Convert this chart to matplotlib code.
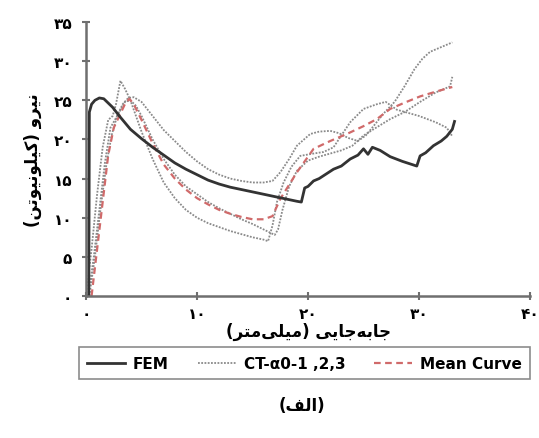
import matplotlib
matplotlib.use("Agg")
import matplotlib.pyplot as plt
from matplotlib.ticker import FuncFormatter, FixedLocator
from matplotlib.lines import Line2D

plt.rcParams['font.family'] = ['DejaVu Sans']

# ---- data (displacement mm, force kN) ----
fem_x = [0, 0.25, 0.3, 0.5, 0.8, 1.2, 1.6, 2.4, 3, 4, 5, 6, 7, 8, 9, 10, 11, 12, 13, 14, 15, 16, 17, 18, 19, 19.4,
         19.7, 20, 20.5, 21, 22.3, 23, 23.8, 24.5, 25, 25.4, 25.8, 26.5, 27.4, 28.5, 29.8, 30.1, 30.6, 31.3, 32, 32.5, 33, 33.2]
fem_y = [0, 0, 23.5, 24.5, 25, 25.3, 25.2, 24.1, 23, 21.3, 20.1, 19, 18, 17, 16.2, 15.5, 14.8, 14.3, 13.9, 13.6, 13.3, 13, 12.7, 12.4, 12.1, 12,
         13.8, 14, 14.7, 15, 16.2, 16.6, 17.5, 18, 18.8, 18.1, 19, 18.6, 17.8, 17.2, 16.6, 17.9, 18.3, 19.2, 19.8, 20.4, 21.3, 22.3]

ct_a_x = [0.3, 0.8, 1.3, 1.8, 2.3, 2.8, 3.3, 3.8, 4.3, 5, 6, 7, 8, 9, 10, 11, 12, 13, 14, 15, 16, 16.8, 17.5, 18.3, 19, 20.2,
          21, 22, 22.8, 23.6, 24.5, 25.2, 25.9, 26.8, 27.8, 28.7, 29.6, 30.3, 31, 32, 33]
ct_a_y = [0, 5, 11, 16.5, 20.5, 23, 24.5, 25.3, 25.4, 24.8, 23, 21.2, 19.8, 18.4, 17.2, 16.2, 15.5, 15, 14.7, 14.5, 14.5, 14.7, 15.8, 17.5, 19.2, 20.7,
          21, 21.1, 20.8, 20.2, 19.8, 20.5, 21.7, 23.3, 24.8, 26.8, 29, 30.3, 31.2, 31.8, 32.4]

ct_b_x = [0, 0.5, 1, 1.5, 2, 2.4, 2.7, 3.1, 3.5, 4, 4.5, 5, 6, 7, 8, 9, 10, 11, 12, 13, 14, 15, 16, 16.4, 16.8, 17.2, 17.8,
          18.5, 19.3, 20.5, 21.4, 22.3, 23, 23.8, 25, 26.2, 27, 28, 29, 30, 31.5, 32.5, 33]
ct_b_y = [0, 6, 13, 19, 22.5, 23, 24.5, 27.5, 26.5, 25, 23, 21, 17.5, 14.5, 12.5, 11, 10, 9.3, 8.8, 8.3, 7.9, 7.5, 7.2, 7.0, 9, 12, 14.5,
          16.5, 17.9, 18.2, 18.4, 19, 20.5, 22.2, 23.9, 24.5, 24.8, 23.8, 23.4, 23, 22.2, 21.5, 20.4]

ct_c_x = [0.2, 0.7, 1.2, 1.7, 2.2, 2.6, 3, 3.5, 4, 4.5, 5, 6, 7, 8, 9, 10, 11, 12, 13, 14, 15, 16, 17, 17.3, 17.7, 18.3,
          19, 20, 21, 22, 23, 24, 25, 25.9, 27.4, 28.7, 30.1, 31.5, 32.5, 32.8, 33]
ct_c_y = [0, 5, 11, 17, 21.5, 22.5, 23.5, 24.8, 25, 24.3, 23, 20, 17.5, 15.5, 14, 13, 12, 11.2, 10.5, 9.8, 9.2, 8.5, 7.8, 8.5, 11, 14,
          16, 17.3, 17.8, 18.2, 18.6, 19.2, 20.5, 21.3, 22.6, 23.5, 24.8, 26, 26.6, 26.8, 28]

mean_x = [0.5, 1, 1.5, 2, 2.5, 3, 3.5, 3.9, 4.3, 5, 6, 7, 8, 9, 10, 11, 12, 13, 14, 15, 16, 16.8, 17.5, 19, 20.5, 22,
          23.5, 25, 26.2, 27.4, 28.7, 30.1, 31.5, 33]
mean_y = [0, 6, 12, 18, 21.5, 23, 24.5, 25.2, 24.5, 22.5, 19.5, 16.8, 15, 13.6, 12.5, 11.7, 11, 10.5, 10.1, 9.8, 9.8, 10.2, 12.4, 15.8, 18.8, 19.8,
          20.7, 21.7, 22.6, 23.9, 24.7, 25.5, 26.1, 26.7]

x_ticks = [0, 10, 20, 30, 40]
y_ticks = [0, 5, 10, 15, 20, 25, 30, 35]

legend_labels = ["FEM", "CT-\u03b10-1 ,2,3", "Mean Curve"]

# Persian text pre-shaped in visual order
ylabel_txt = "(\uFEE6\uFE97\uFEEE\uFEF4\uFEE7\uFEEE\uFEE0\uFEF4\uFEDB) \uFEED\uFEAE\uFEF4\uFEE7"
xlabel_txt = "(\uFEAE\uFE98\uFEE3\uFEF0\uFEE0\uFEF4\uFEE3) \uFEF0\uFEF3\uFE8E\uFE9F\uFEEA\uFE91\uFE8E\uFE9F"
caption_txt = "(\uFED2\uFEDF\uFE8D)"

PERSIAN = str.maketrans("0123456789", "\u06F0\u06F1\u06F2\u06F3\u06F4\u06F5\u06F6\u06F7\u06F8\u06F9")

def fa(v, pos=None):
    return str(int(round(v))).translate(PERSIAN)

fig = plt.figure(figsize=(5.39, 4.39), dpi=100)
ax = fig.add_axes([0.1596, 0.3235, 0.8237, 0.624])

grey = "#8a8a8a"
ax.plot(ct_a_x, ct_a_y, color=grey, lw=1.3, ls=(0, (1, 0.8)))
ax.plot(ct_b_x, ct_b_y, color=grey, lw=1.3, ls=(0, (1, 0.8)))
ax.plot(ct_c_x, ct_c_y, color=grey, lw=1.3, ls=(0, (1, 0.8)))
ax.plot(mean_x, mean_y, color="#d06a6a", lw=1.6, ls=(0, (3, 2)))
ax.plot(fem_x, fem_y, color="#333333", lw=2.0)

ax.set_xlim(0, 40)
ax.set_ylim(0, 35)
ax.xaxis.set_major_locator(FixedLocator(x_ticks))
ax.yaxis.set_major_locator(FixedLocator(y_ticks))
ax.xaxis.set_major_formatter(FuncFormatter(fa))
ax.yaxis.set_major_formatter(FuncFormatter(fa))

for s in ["top", "right"]:
    ax.spines[s].set_visible(False)
for s in ["left", "bottom"]:
    ax.spines[s].set_color("#6f6f6f")
    ax.spines[s].set_linewidth(1.8)
ax.tick_params(axis="both", direction="inout", length=6, width=1.5, color="#6f6f6f",
               labelsize=11)
ax.tick_params(axis="x", pad=4)
ax.tick_params(axis="y", pad=7)
for lab in ax.get_xticklabels() + ax.get_yticklabels():
    lab.set_fontweight("bold")

ax.set_xlabel(xlabel_txt, fontsize=12, fontweight="bold", labelpad=1)
ax.set_ylabel(ylabel_txt, fontsize=12, fontweight="bold", labelpad=8)

handles = [Line2D([], [], color="#333333", lw=2.0),
           Line2D([], [], color=grey, lw=1.3, ls=(0, (1, 0.8))),
           Line2D([], [], color="#d06a6a", lw=1.6, ls=(0, (3, 2)))]
leg = fig.legend(handles, legend_labels, ncol=3, loc="center", bbox_to_anchor=(0.565, 0.17),
                 frameon=True, fancybox=False, edgecolor="#6f6f6f", handlelength=2.5,
                 columnspacing=1.9, handletextpad=0.5, borderpad=0.55,
                 prop={"weight": "bold", "size": 11})
leg.get_frame().set_linewidth(1.2)

fig.text(0.56, 0.075, caption_txt, ha="center", va="center", fontsize=12, fontweight="bold")

fig.savefig("out.png", dpi=100)
